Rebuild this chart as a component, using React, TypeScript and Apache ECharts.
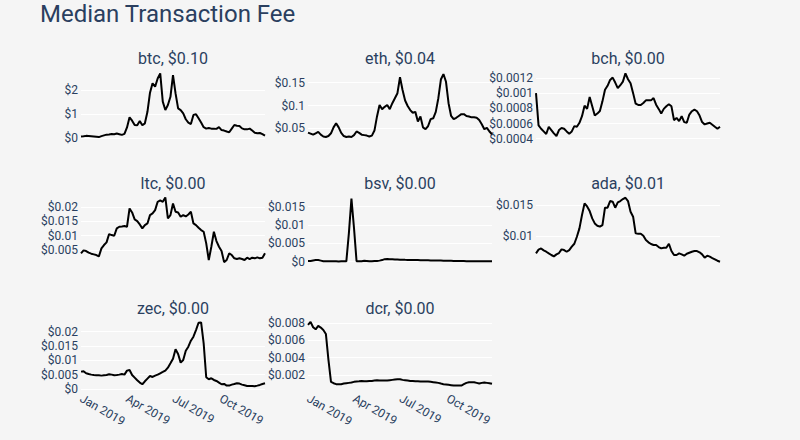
import React, { useEffect, useRef } from "react";
import * as echarts from "echarts";

// ---- dates (sampled every 5 days) ----
const START_DATE = Date.UTC(2019, 0, 1);
const STEP_DAYS = 5;
const N_POINTS = 73;
const dates: number[] = Array.from({ length: N_POINTS }, (_, k) => START_DATE + k * STEP_DAYS * 86400000);

// ---- series values (USD) ----
const btc = [
  0.07, 0.08, 0.1, 0.09, 0.08, 0.07, 0.06, 0.05, 0.09, 0.12,
  0.15, 0.16, 0.18, 0.17, 0.2, 0.17, 0.14, 0.18, 0.45, 0.87,
  0.73, 0.55, 0.54, 0.72, 0.54, 0.62, 1.1, 1.89, 2.28, 2.14,
  2.48, 2.69, 1.52, 1.17, 1.38, 1.72, 2.62, 1.86, 1.24, 1.17,
  1.03, 0.79, 0.65, 0.59, 0.97, 1.0, 0.83, 0.65, 0.46, 0.4,
  0.43, 0.4, 0.4, 0.39, 0.46, 0.34, 0.32, 0.28, 0.25, 0.4,
  0.55, 0.52, 0.51, 0.41, 0.37, 0.37, 0.4, 0.32, 0.23, 0.21,
  0.22, 0.17, 0.11,
];
const eth = [
  0.0405, 0.0383, 0.036, 0.039, 0.042, 0.036, 0.032, 0.031, 0.033, 0.039,
  0.052, 0.061, 0.052, 0.04, 0.033, 0.031, 0.032, 0.031, 0.035, 0.043,
  0.04, 0.036, 0.035, 0.034, 0.032, 0.034, 0.045, 0.076, 0.101, 0.092,
  0.097, 0.101, 0.092, 0.105, 0.116, 0.127, 0.162, 0.134, 0.111, 0.099,
  0.09, 0.084, 0.086, 0.065, 0.076, 0.052, 0.048, 0.055, 0.07, 0.072,
  0.086, 0.116, 0.157, 0.169, 0.152, 0.105, 0.077, 0.07, 0.073, 0.077,
  0.081, 0.081, 0.077, 0.076, 0.074, 0.074, 0.073, 0.068, 0.059, 0.048,
  0.051, 0.043, 0.037,
];
const bch = [
  0.001003, 0.000575, 0.000531, 0.000496, 0.000461, 0.000557, 0.000514, 0.00047, 0.000435, 0.000514,
  0.00054, 0.000531, 0.000496, 0.000466, 0.000496, 0.000566, 0.000557, 0.00061, 0.000697, 0.000837,
  0.000794, 0.000951, 0.000828, 0.000706, 0.000732, 0.000767, 0.000894, 0.001047, 0.0011, 0.001178,
  0.001209, 0.001143, 0.001069, 0.001108, 0.001156, 0.001266, 0.001187, 0.001134, 0.001003, 0.000863,
  0.000846, 0.000846, 0.000872, 0.000907, 0.000907, 0.000907, 0.000938, 0.00085, 0.000794, 0.000732,
  0.000794, 0.000828, 0.000855, 0.000828, 0.000645, 0.000675, 0.000632, 0.000697, 0.000619, 0.00061,
  0.000719, 0.000763, 0.000785, 0.000763, 0.000706, 0.000619, 0.000588, 0.000601, 0.00061, 0.000584,
  0.000557, 0.000531, 0.000557,
];
const ltc = [
  0.00385, 0.00488, 0.00465, 0.00408, 0.00373, 0.0035, 0.00327, 0.00281, 0.00558, 0.00673,
  0.00765, 0.01054, 0.01019, 0.00996, 0.0125, 0.01308, 0.01319, 0.01331, 0.01308, 0.01942,
  0.01804, 0.01562, 0.01504, 0.01388, 0.0125, 0.01365, 0.01423, 0.01711, 0.01769, 0.01885,
  0.02173, 0.02219, 0.02173, 0.02323, 0.01596, 0.01711, 0.02115, 0.01827, 0.01804, 0.01654,
  0.01711, 0.01665, 0.01735, 0.01827, 0.01423, 0.01365, 0.01273, 0.01192, 0.01135, 0.00731,
  0.00154, 0.00615, 0.01135, 0.00812, 0.00615, 0.00465, 0.0008, 0.00154, 0.00385, 0.00327,
  0.00212, 0.00188, 0.00212, 0.00188, 0.00154, 0.00235, 0.00188, 0.00235, 0.00212, 0.00246,
  0.00212, 0.00235, 0.00385,
];
const bsv = [
  0.00018, 0.00022, 0.00035, 0.00045, 0.00045, 0.0003, 0.00015, 0.0001, 0.0001, 0.00012,
  0.0001, 0.0001, 0.00009, 0.0001, 0.0001, 0.0001, 0.0078, 0.0172, 0.0092, 0.00012,
  0.0001, 0.00015, 0.00025, 0.0002, 0.0001, 0.00012, 0.00018, 0.0002, 0.0003, 0.00045,
  0.0007, 0.00075, 0.0007, 0.00065, 0.0006, 0.00058, 0.00055, 0.00055, 0.00052, 0.0005,
  0.0005, 0.00048, 0.00045, 0.00045, 0.00042, 0.0004, 0.0004, 0.00038, 0.00035, 0.00035,
  0.00032, 0.0003, 0.0003, 0.00028, 0.00027, 0.00025, 0.00025, 0.00022, 0.0002, 0.0002,
  0.00018, 0.00017, 0.00016, 0.00015, 0.00015, 0.00014, 0.00013, 0.00013, 0.00012, 0.00012,
  0.00011, 0.0001, 0.0001,
];
const ada = [
  0.0072, 0.0078, 0.008, 0.00769, 0.00747, 0.0072, 0.00694, 0.00672, 0.00704, 0.00726,
  0.00785, 0.00774, 0.00747, 0.00774, 0.00828, 0.00876, 0.00989, 0.01124, 0.01339, 0.01527,
  0.01478, 0.01403, 0.01285, 0.01204, 0.01167, 0.01151, 0.01177, 0.01457, 0.01457, 0.01565,
  0.01554, 0.01457, 0.01543, 0.01565, 0.01597, 0.01618, 0.01565, 0.01392, 0.01312, 0.01043,
  0.01038, 0.01038, 0.01005, 0.00935, 0.00898, 0.00871, 0.00855, 0.00855, 0.00823, 0.00801,
  0.00812, 0.00812, 0.00876, 0.00758, 0.00694, 0.00694, 0.0072, 0.00704, 0.00683, 0.00715,
  0.00731, 0.00747, 0.00758, 0.00758, 0.00737, 0.00704, 0.00651, 0.00683, 0.00667, 0.00645,
  0.00624, 0.00602, 0.00586,
];
const zec = [
  0.00605, 0.00616, 0.00547, 0.00523, 0.005, 0.00488, 0.00477, 0.00477, 0.00465, 0.00477,
  0.00488, 0.00512, 0.005, 0.00477, 0.00488, 0.005, 0.00523, 0.005, 0.0064, 0.00663,
  0.00488, 0.00395, 0.00302, 0.00221, 0.00163, 0.00267, 0.0036, 0.00453, 0.00419, 0.00465,
  0.005, 0.00547, 0.00593, 0.0064, 0.00744, 0.00895, 0.01058, 0.01384, 0.01221, 0.00919,
  0.01012, 0.01337, 0.01477, 0.01686, 0.01826, 0.02058, 0.02314, 0.02326, 0.01593, 0.00407,
  0.00337, 0.00372, 0.00314, 0.00279, 0.00221, 0.00163, 0.00174, 0.00116, 0.00116, 0.00151,
  0.00174, 0.00198, 0.00186, 0.00151, 0.00128, 0.00105, 0.00105, 0.00105, 0.00093, 0.00116,
  0.0014, 0.00174, 0.00198,
];
const dcr = [
  0.00781, 0.00816, 0.00754, 0.0073, 0.00769, 0.0075, 0.00723, 0.00676, 0.00374, 0.00119,
  0.00103, 0.00092, 0.00092, 0.00092, 0.00099, 0.00103, 0.00107, 0.00111, 0.00119, 0.00123,
  0.00126, 0.0013, 0.00126, 0.00126, 0.0013, 0.0013, 0.00134, 0.00138, 0.00134, 0.00134,
  0.00134, 0.00134, 0.00138, 0.00142, 0.00146, 0.0015, 0.0015, 0.00142, 0.00138, 0.00134,
  0.0013, 0.0013, 0.00126, 0.00126, 0.00123, 0.00123, 0.00123, 0.00123, 0.00119, 0.00115,
  0.00111, 0.00107, 0.00099, 0.00092, 0.00088, 0.00084, 0.0008, 0.00076, 0.00076, 0.00076,
  0.00076, 0.00092, 0.00107, 0.00115, 0.00115, 0.00115, 0.00107, 0.00099, 0.00107, 0.00111,
  0.00107, 0.00103, 0.00096,
];

// ---- panel names, headline labels, y ticks, y ranges ----
const panelNames = ["btc", "eth", "bch", "ltc", "bsv", "ada", "zec", "dcr"];
const panelLabels = ["$0.10", "$0.04", "$0.00", "$0.00", "$0.00", "$0.01", "$0.00", "$0.00"];
const panelValues = [btc, eth, bch, ltc, bsv, ada, zec, dcr];
const yTicks = [
  [0, 1, 2],
  [0.05, 0.1, 0.15],
  [0.0004, 0.0006, 0.0008, 0.001, 0.0012],
  [0.005, 0.01, 0.015, 0.02],
  [0, 0.005, 0.01, 0.015],
  [0.01, 0.015],
  [0, 0.005, 0.01, 0.015, 0.02],
  [0.002, 0.004, 0.006, 0.008],
];
const yRanges = [
  [-0.03, 2.75],
  [0.0265, 0.1735],
  [0.000395, 0.001283],
  [0.0005, 0.0234],
  [-0.00035, 0.01765],
  [0.00565, 0.0163],
  [-0.0002, 0.0234],
  [0.0003, 0.00815],
];
const xTickValues = [Date.UTC(2019, 0, 1), Date.UTC(2019, 3, 1), Date.UTC(2019, 6, 1), Date.UTC(2019, 9, 1)];
const xTickLabels = ["Jan 2019", "Apr 2019", "Jul 2019", "Oct 2019"];
const chartTitle = "Median Transaction Fee";

// ---- layout ----
const COL_LEFT = [81, 308, 536];
const COL_WIDTH = 184;
const ROW_TOP = [72, 197, 322];
const ROW_HEIGHT = [67, 66, 67.5];
const TITLE_Y = [58.5, 183.5, 308.5];
const FONT = "Roboto";
const TEXT_COLOR = "#2a3f5f";
const BG = "#f5f5f5";

function xLabel(v: number): string {
  let best = 0;
  let bestD = Infinity;
  xTickValues.forEach((t, i) => {
    const d = Math.abs(t - v);
    if (d < bestD) {
      bestD = d;
      best = i;
    }
  });
  return xTickLabels[best];
}

export default function App() {
  const ref = useRef<HTMLDivElement>(null);
  useEffect(() => {
    if (!ref.current) return;
    const chart = echarts.init(ref.current, null, { renderer: "svg" });
    const grids: any[] = [];
    const xAxes: any[] = [];
    const yAxes: any[] = [];
    const series: any[] = [];
    const graphics: any[] = [
      {
        type: "text",
        x: 40,
        y: 13.5,
        silent: true,
        style: {
          text: chartTitle,
          fill: TEXT_COLOR,
          fontSize: 24,
          lineHeight: 24,
          fontFamily: FONT,
          align: "left",
          verticalAlign: "middle",
        },
      },
    ];
    panelNames.forEach((name, i) => {
      const col = i % 3;
      const row = Math.floor(i / 3);
      grids.push({
        left: COL_LEFT[col],
        top: ROW_TOP[row],
        width: COL_WIDTH,
        height: ROW_HEIGHT[row],
        containLabel: false,
      });
      xAxes.push({
        type: "value",
        gridIndex: i,
        min: dates[0],
        max: dates[dates.length - 1],
        axisLine: { show: false },
        axisTick: { show: false, customValues: xTickValues },
        splitLine: { show: false },
        axisLabel: {
          show: row === 2,
          customValues: xTickValues,
          rotate: -30,
          fontSize: 12,
          fontFamily: FONT,
          color: TEXT_COLOR,
          margin: 8,
          formatter: (v: number) => xLabel(v),
        },
      });
      yAxes.push({
        type: "value",
        gridIndex: i,
        min: yRanges[i][0],
        max: yRanges[i][1],
        axisLine: { show: false },
        axisTick: { show: false, customValues: yTicks[i] },
        axisLabel: {
          customValues: yTicks[i],
          fontSize: 12,
          fontFamily: FONT,
          color: TEXT_COLOR,
          margin: 3,
          formatter: (v: number) => "$" + v,
        },
        splitLine: { show: true, lineStyle: { color: "#ffffff", width: 1 } },
      });
      series.push({
        type: "line",
        name,
        xAxisIndex: i,
        yAxisIndex: i,
        data: dates.map((d, k) => [d, panelValues[i][k]]),
        showSymbol: false,
        symbol: "none",
        silent: true,
        lineStyle: { color: "#000000", width: 2 },
      });
      graphics.push({
        type: "text",
        x: COL_LEFT[col] + COL_WIDTH / 2,
        y: TITLE_Y[row],
        silent: true,
        style: {
          text: name + ", " + panelLabels[i],
          fill: TEXT_COLOR,
          fontSize: 16,
          fontFamily: FONT,
          align: "center",
          verticalAlign: "middle",
        },
      });
    });
    chart.setOption({
      animation: false,
      backgroundColor: BG,
      grid: grids,
      xAxis: xAxes,
      yAxis: yAxes,
      series,
      graphic: graphics,
    });
    return () => chart.dispose();
  }, []);
  return (
    <div
      ref={ref}
      style={{ position: "absolute", left: 0, top: 0, width: 800, height: 440, background: BG }}
    />
  );
}
